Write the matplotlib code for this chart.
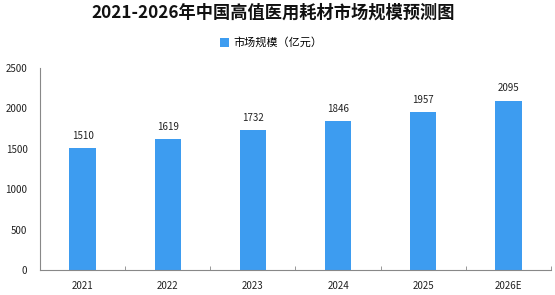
import matplotlib
matplotlib.use("Agg")
import matplotlib.pyplot as plt

plt.rcParams['font.family'] = ['Noto Sans CJK SC', 'DejaVu Sans']

categories = ['2021', '2022', '2023', '2024', '2025', '2026E']
values = [1510, 1619, 1732, 1846, 1957, 2095]
yticks = [0, 500, 1000, 1500, 2000, 2500]
title = '2021-2026年中国高值医用耗材市场规模预测图'
legend_label = '市场规模（亿元）'
color = '#3d9cf0'

fig = plt.figure(figsize=(5.55, 2.95), dpi=100)
ax = fig.add_axes([40 / 555, 25 / 295, 511 / 555, 202 / 295])

x = list(range(len(categories)))
ax.bar(x, values, width=0.31, color=color, label=legend_label, zorder=2)
for xi, v in zip(x, values):
    ax.text(xi, v + 90, str(v), ha='center', va='bottom', fontsize=7, color='#222222')

ax.set_xlim(-0.5, len(categories) - 0.5)
ax.set_ylim(0, 2500)
ax.set_yticks(yticks)
ax.set_yticklabels([str(t) for t in yticks], fontsize=7, color='#222222')
ax.set_xticks(x)
ax.set_xticklabels(categories, fontsize=7, color='#222222')
ax.tick_params(axis='x', which='major', length=0, pad=8)
ax.tick_params(axis='y', which='major', length=0, pad=9)
ax.set_xticks([i + 0.5 for i in range(len(categories))], minor=True)
ax.tick_params(axis='x', which='minor', length=3, color='#888888', direction='in')

for s in ['top', 'right']:
    ax.spines[s].set_visible(False)
for s in ['left', 'bottom']:
    ax.spines[s].set_color('#888888')
    ax.spines[s].set_linewidth(0.8)

fig.text(0.492, 0.957, title, ha='center', va='center', fontsize=12.4, fontweight='bold', color='#111111')
ax.legend(loc='center', bbox_to_anchor=(0.452, 1.125), frameon=False, fontsize=8,
          handlelength=0.8, handleheight=0.8, handletextpad=0.4)

fig.savefig('out.png', dpi=100)
